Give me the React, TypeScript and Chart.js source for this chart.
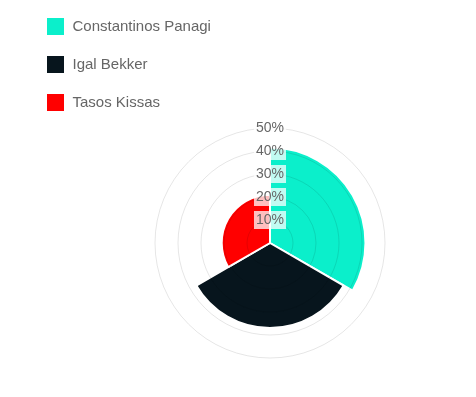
import React, { useEffect, useRef } from "react";
import { Chart, registerables } from "chart.js";

Chart.register(...registerables);

const labels = ["Constantinos Panagi", "Igal Bekker", "Tasos Kissas"];
const values = [41.5, 37, 21];
const colors = ["#0BEFCB", "#07151D", "#FF0000"];
const tickMax = 50;
const tickStep = 10;

const FONT = "'Helvetica Neue', Helvetica, Arial, 'Liberation Sans', sans-serif";

export default function App() {
  const ref = useRef<HTMLCanvasElement | null>(null);

  useEffect(() => {
    if (!ref.current) return;
    const chart = new Chart(ref.current, {
      type: "polarArea",
      data: {
        labels,
        datasets: [
          {
            data: values,
            backgroundColor: colors,
            borderColor: "#ffffff",
            borderWidth: 2,
          },
        ],
      },
      options: {
        responsive: false,
        animation: false,
        devicePixelRatio: 1,
        layout: { padding: { left: 27, right: 17, top: 121, bottom: 121 } },
        plugins: {
          tooltip: { enabled: false },
          legend: {
            position: "chartArea",
            align: "start",
            labels: {
              boxWidth: 19,
              boxHeight: 19,
              padding: 19,
              color: "#666",
              font: { family: FONT, size: 15 },
            },
          },
        },
        scales: {
          r: {
            min: 0,
            max: tickMax,
            beginAtZero: true,
            grid: { color: "rgba(0,0,0,0.1)", z: 1 },
            ticks: {
              stepSize: tickStep,
              z: 1,
              color: "#666",
              font: { family: FONT, size: 14 },
              backdropColor: "rgba(255,255,255,0.75)",
              backdropPadding: 2,
              callback: (v: any) => v + "%",
            },
          },
        },
      },
    });
    return () => chart.destroy();
  }, []);

  return (
    <div style={{ position: "fixed", left: 0, top: 0, width: 476, height: 397, overflow: "hidden", background: "#fff" }}>
      <div style={{ position: "absolute", left: 0, top: -2, width: 530, height: 490 }}>
        <canvas ref={ref} width={530} height={490} style={{ display: "block", width: 530, height: 490 }} />
      </div>
    </div>
  );
}
